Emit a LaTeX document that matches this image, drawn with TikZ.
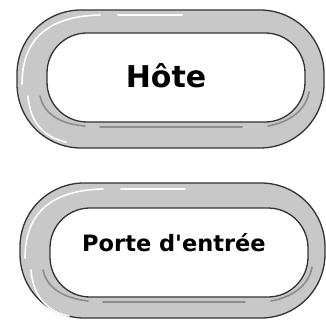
\documentclass[tikz,border=0pt]{standalone}
\usepackage{fontspec}
\setsansfont{DejaVu Sans}
\usepackage{xcolor}
\definecolor{GrisAnneau}{RGB}{200,200,200}
\definecolor{GrisBord}{RGB}{50,50,50}
\definecolor{GrisOmbre}{RGB}{140,140,140}

\begin{document}
\begin{tikzpicture}[x=1pt,y=-1pt,
    anneau/.style={fill=GrisAnneau,draw=GrisBord,line width=1.3pt,rounded corners=64pt},
    trou/.style={fill=white,draw=GrisBord,line width=1.3pt,rounded corners=40pt},
    reflet/.style={draw=white,line width=1.6pt,line cap=round},
    ombre/.style={draw=GrisOmbre,line width=1.6pt,line cap=round},
    etiquette/.style={text=black,inner sep=0pt}]
  \useasboundingbox (0,0) rectangle (326,320);
  \fill[white] (0,0) rectangle (326,320);
  % anneau du haut
  \draw[anneau] (17,10) rectangle (324,148);
  \draw[trou] (47,33) rectangle (305,122);
  \draw[reflet] (22,84) .. controls (22,36) and (52,16) .. (100,15);
  \draw[reflet] (118,15) -- (182,15);
  \draw[reflet] (28,96) .. controls (30,124) and (46,138) .. (66,142);
  \draw[ombre] (40,96) .. controls (44,114) and (60,124) .. (85,126);
  \draw[ombre] (100,127) -- (242,127);
  \draw[ombre] (268,126) .. controls (290,122) and (306,110) .. (309,92);
  \node[etiquette,font=\sffamily\bfseries\fontsize{30}{32}\selectfont] (hote) at (166,76) {Hôte};
  % anneau du bas
  \draw[anneau] (20,183) rectangle (325,318);
  \draw[trou] (50,208) rectangle (308,297);
  \draw[reflet] (25,258) .. controls (25,210) and (55,190) .. (103,189);
  \draw[reflet] (121,189) -- (185,189);
  \draw[reflet] (31,270) .. controls (33,298) and (49,312) .. (69,316);
  \draw[ombre] (43,270) .. controls (47,288) and (63,298) .. (88,301);
  \draw[ombre] (103,302) -- (245,302);
  \draw[ombre] (271,301) .. controls (293,297) and (309,285) .. (312,267);
  \node[etiquette,font=\sffamily\bfseries\fontsize{22.5}{24}\selectfont] (porte) at (174,243) {Porte d\textquotesingle entrée};
\end{tikzpicture}
\end{document}
